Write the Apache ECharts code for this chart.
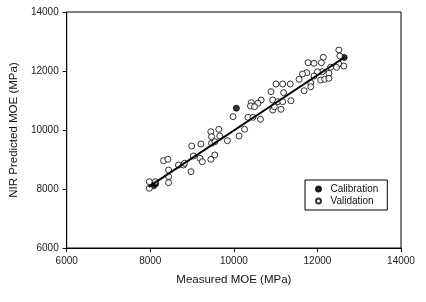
<!DOCTYPE html>
<html>
<head>
<meta charset="utf-8">
<script src="https://cdn.jsdelivr.net/npm/echarts@6/dist/echarts.min.js"></script>
<style>
html,body{margin:0;padding:0;background:#fff;}
#main{width:426px;height:302px;}
</style>
</head>
<body>
<div id="main"></div>
<script>
// measured MOE (x) vs NIR predicted MOE (y), MPa
var calX = [8080, 8130, 10060, 12640];
var calY = [8110, 8180, 10740, 12460];

var valX = [7977, 7977, 8120, 8438, 8438, 8438, 8319, 8421, 8675, 8794, 8975, 8991, 9212, 9032, 9188, 9245,
    9449, 9544, 9466, 9449, 9639, 9663, 9846, 10124, 11009, 11168, 11349, 10890, 11192, 10416, 10653, 10931,
    11050, 11168, 11365, 10399, 10931, 11128, 9981, 10337, 10456, 10636, 10256, 9466, 9544, 12512, 12536,
    12141, 12094, 11776, 12512, 12631, 12457, 12315, 12275, 12117, 11999, 11918, 11745, 11643, 11562, 12077,
    12172, 11840, 11840, 11681, 10969, 10575, 10494, 11918, 12275, 8818];
var valY = [8248, 8024, 8248, 8644, 8417, 8214, 8959, 9007, 8814, 8814, 8587, 9458, 9526, 9119, 9041, 8926,
    9007, 9153, 9549, 9943, 10024, 9797, 9637, 9797, 11560, 11560, 11560, 11299, 11265, 10926, 11017, 11017,
    10960, 10960, 10993, 10814, 10678, 10702, 10451, 10431, 10431, 10363, 10024, 9773, 9604, 12712, 12509,
    12465, 12282, 12282, 12238, 12170, 12126, 12126, 11922, 11977, 11977, 11831, 11943, 11899, 11719, 11695,
    11719, 11604, 11468, 11332, 10790, 10905, 10790, 12261, 11753, 8871];

// fitted line end points
var fitX = [7960, 12650];
var fitY = [8070, 12465];

var axisTicks = [6000, 8000, 10000, 12000, 14000];

function pairs(xs, ys) {
    var out = [];
    for (var i = 0; i < xs.length; i++) {
        out.push([xs[i], ys[i]]);
    }
    return out;
}

var myChart = echarts.init(document.getElementById('main'), null, {renderer: 'canvas'});
var fontFam = 'Liberation Sans, Arial, sans-serif';

var axisCommon = {
    min: axisTicks[0],
    max: axisTicks[axisTicks.length - 1],
    interval: 2000,
    nameLocation: 'middle',
    nameTextStyle: {color: '#111', fontSize: 11.5, fontFamily: fontFam},
    axisLine: {show: true, onZero: false, lineStyle: {color: '#000', width: 1}},
    axisTick: {show: true, inside: false, length: 4, lineStyle: {color: '#000'}},
    axisLabel: {
        color: '#222', fontSize: 10, fontFamily: fontFam,
        formatter: function (v) { return String(v); }
    },
    splitLine: {show: false}
};

var option = {
    animation: false,
    backgroundColor: '#fff',
    grid: {
        left: 64, right: 25, top: 12, bottom: 54,
        show: true, borderColor: '#000', borderWidth: 1, backgroundColor: 'transparent'
    },
    xAxis: echarts.util.merge({
        type: 'value',
        name: 'Measured MOE (MPa)',
        nameGap: 26
    }, axisCommon),
    yAxis: echarts.util.merge({
        type: 'value',
        name: 'NIR Predicted MOE (MPa)',
        nameGap: 40
    }, axisCommon),
    legend: {
        orient: 'vertical',
        left: 305,
        top: 180,
        padding: [4, 9, 4, 10],
        itemGap: 2,
        itemWidth: 14,
        itemHeight: 5,
        borderColor: '#000',
        borderWidth: 1,
        borderRadius: 0,
        textStyle: {color: '#111', fontSize: 10, fontFamily: fontFam},
        data: [
            {name: 'Calibration', icon: 'circle'},
            {name: 'Validation', icon: 'circle'}
        ]
    },
    series: [
        {
            name: 'Calibration',
            type: 'scatter',
            symbol: 'circle',
            symbolSize: 6,
            itemStyle: {color: '#000', borderColor: '#000', borderWidth: 1},
            data: pairs(calX, calY),
            z: 2
        },
        {
            name: 'Validation',
            type: 'scatter',
            symbol: 'circle',
            symbolSize: 6,
            itemStyle: {color: '#fff', borderColor: '#000', borderWidth: 1},
            data: pairs(valX, valY),
            z: 3
        },
        {
            name: 'fit',
            type: 'line',
            symbol: 'none',
            lineStyle: {color: '#000', width: 2},
            data: pairs(fitX, fitY),
            z: 4
        }
    ]
};
myChart.setOption(option);
</script>
</body>
</html>
